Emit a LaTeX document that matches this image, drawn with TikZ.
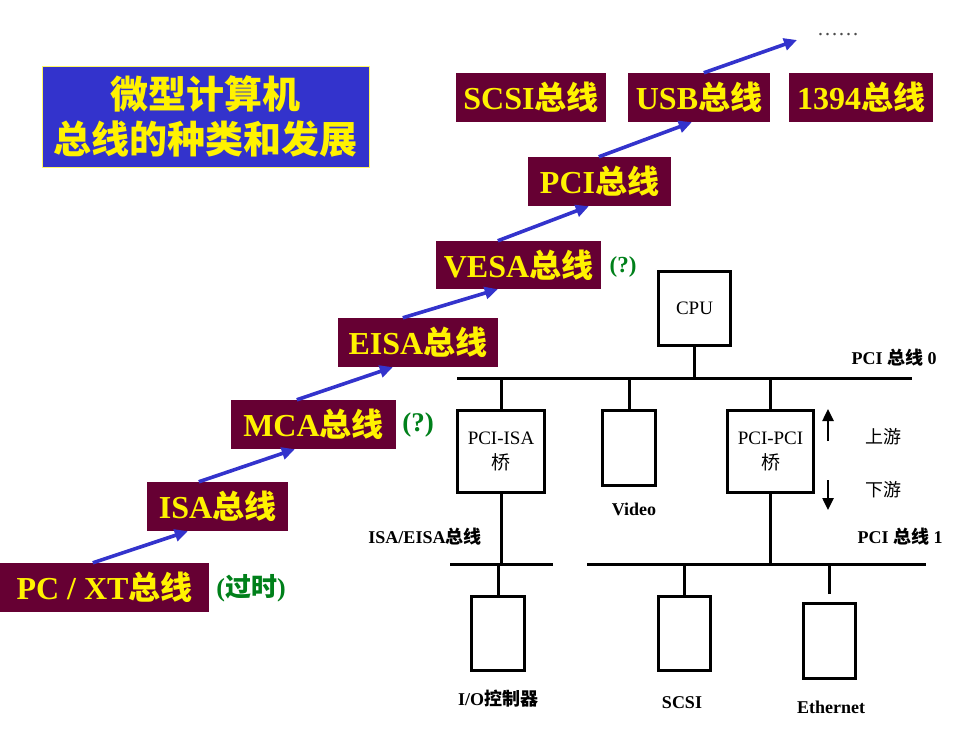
\documentclass[tikz,border=0pt]{standalone}
\usepackage{fontspec}
\setmainfont{Liberation Serif}
\newfontfamily\cjk{Noto Sans CJK SC}
\usetikzlibrary{arrows.meta}
\definecolor{maroonbox}{HTML}{660033}
\definecolor{titleblue}{HTML}{3333CC}
\definecolor{arrowblue}{HTML}{3333CC}
\definecolor{greentext}{HTML}{00801A}
\newcommand\zh[1]{{\cjk #1}}
\begin{document}
\begin{tikzpicture}[x=1pt,y=-1pt,
  busbox/.style={fill=maroonbox, text=yellow, inner sep=0pt, font=\bfseries\fontsize{32}{32}\selectfont},
  titlebox/.style={fill=titleblue, draw=yellow!60, line width=0.8pt, text=yellow, align=center, inner sep=0pt,
    font=\cjk\bfseries\fontsize{38}{45}\selectfont},
  evo/.style={draw=arrowblue, line width=3.6pt, -{Triangle[length=13pt,width=12pt]}},
  note/.style={text=greentext, font=\bfseries\fontsize{26}{26}\selectfont},
  unit/.style={draw, line width=2.8pt, inner sep=0pt, align=center, font=\fontsize{19}{25}\selectfont},
  lbl/.style={font=\bfseries\fontsize{18}{20}\selectfont},
  busline/.style={line width=3pt},
  flow/.style={line width=2.5pt, -{Triangle[length=12pt,width=11pt]}}
]
\useasboundingbox (0,0) rectangle (980,735);

% title
\node[titlebox, minimum width=327pt, minimum height=101pt] (title) at (205.5,116.5) {微型计算机\\总线的种类和发展};

% bus evolution boxes
\node[busbox, minimum width=209pt, minimum height=49pt] (pcxt) at (104.5,587.5) {PC / XT\zh{总线}};
\node[busbox, minimum width=141pt, minimum height=49pt] (isa) at (217.5,506.5) {ISA\zh{总线}};
\node[busbox, minimum width=165pt, minimum height=49pt] (mca) at (313.5,424.5) {MCA\zh{总线}};
\node[busbox, minimum width=160pt, minimum height=49pt] (eisa) at (418,342.5) {EISA\zh{总线}};
\node[busbox, minimum width=165pt, minimum height=48pt] (vesa) at (518.5,265) {VESA\zh{总线}};
\node[busbox, minimum width=143pt, minimum height=49pt] (pci) at (599.5,181.5) {PCI\zh{总线}};
\node[busbox, minimum width=150pt, minimum height=49pt] (scsi) at (531,97.5) {SCSI\zh{总线}};
\node[busbox, minimum width=142pt, minimum height=49pt] (usb) at (699,97.5) {USB\zh{总线}};
\node[busbox, minimum width=144pt, minimum height=49pt] (ieee) at (861,97.5) {1394\zh{总线}};
\node[text=black!70, font=\fontsize{21}{21}\selectfont] (dots) at (838,35) {……};
\coordinate (dotsend) at (797,40);

% notes
\node[note] (old) at (251,588) {(\zh{过时})};
\node[note, font=\bfseries\fontsize{27}{27}\selectfont] (q1) at (418,425) {(?)};
\node[note, font=\bfseries\fontsize{23}{23}\selectfont] (q2) at (623,267) {(?)};

% evolution arrows
\draw[evo] ([xshift=93pt]pcxt.north west) -- ([xshift=41pt]isa.south west);
\draw[evo] ([xshift=52pt]isa.north west) -- ([xshift=64pt]mca.south west);
\draw[evo] ([xshift=66pt]mca.north west) -- ([xshift=55pt]eisa.south west);
\draw[evo] ([xshift=65pt]eisa.north west) -- ([xshift=62pt]vesa.south west);
\draw[evo] ([xshift=62pt]vesa.north west) -- ([xshift=61pt]pci.south west);
\draw[evo] ([xshift=71pt]pci.north west) -- ([xshift=64pt]usb.south west);
\draw[evo] ([xshift=76pt]usb.north west) -- (dotsend);

% PCI system diagram
\node[unit, minimum width=72pt, minimum height=74pt] (cpu) at (694.5,308.5) {CPU};
\node[unit, minimum width=87pt, minimum height=82pt] (pciisa) at (501,451.5) {PCI-ISA\\\zh{桥}};
\node[unit, minimum width=53pt, minimum height=75pt] (video) at (629,448) {};
\node[unit, minimum width=86pt, minimum height=82pt] (pcipci) at (770.5,451.5) {PCI-PCI\\\zh{桥}};
\node[unit, minimum width=53pt, minimum height=74pt] (io) at (498,633.5) {};
\node[unit, minimum width=52pt, minimum height=74pt] (scsidev) at (684.5,633.5) {};
\node[unit, minimum width=52pt, minimum height=75pt] (eth) at (829.5,641) {};

\coordinate (b0l) at (457,378);
\coordinate (b0r) at (912,378);
\coordinate (b1l) at (450,564);
\coordinate (b1lr) at (553,564);
\coordinate (b1r) at (587,564);
\coordinate (b1rr) at (926,564);
\coordinate (ethtop) at (829.5,594);

\draw[busline] (b0l) -- (b0r);
\draw[busline] (b1l) -- (b1lr);
\draw[busline] (b1r) -- (b1rr);

\draw[busline] (cpu.south) -- (cpu.south |- b0l);
\draw[busline] (pciisa.north) -- (pciisa.north |- b0l);
\draw[busline] (video.north) -- (video.north |- b0l);
\draw[busline] (pcipci.north) -- (pcipci.north |- b0l);
\draw[busline] (pciisa.south) -- (pciisa.south |- b1l);
\draw[busline] (pcipci.south) -- (pcipci.south |- b1r);
\draw[busline] (io.north) -- (io.north |- b1l);
\draw[busline] (scsidev.north) -- (scsidev.north |- b1r);
\draw[busline] (ethtop) -- (ethtop |- b1r);

\coordinate (upS) at (828,441);
\coordinate (upE) at (828,409);
\coordinate (dnS) at (828,480);
\coordinate (dnE) at (828,510);
\draw[flow] (upS) -- (upE);
\draw[flow] (dnS) -- (dnE);

\node[lbl] (bus0) at (894,358) {PCI \zh{总线} 0};
\node[lbl] (bus1) at (900,537) {PCI \zh{总线} 1};
\node[lbl] (isabus) at (425,537) {ISA/EISA\zh{总线}};
\node[lbl] (videolbl) at (634,509) {Video};
\node[lbl, font=\fontsize{18}{20}\selectfont] (up) at (883,437) {\zh{上游}};
\node[lbl, font=\fontsize{18}{20}\selectfont] (down) at (883,490) {\zh{下游}};
\node[lbl] (iolbl) at (498,699) {I/O\zh{控制器}};
\node[lbl] (scsilbl) at (682,703) {SCSI};
\node[lbl] (ethlbl) at (831,707) {Ethernet};
\end{tikzpicture}
\end{document}
